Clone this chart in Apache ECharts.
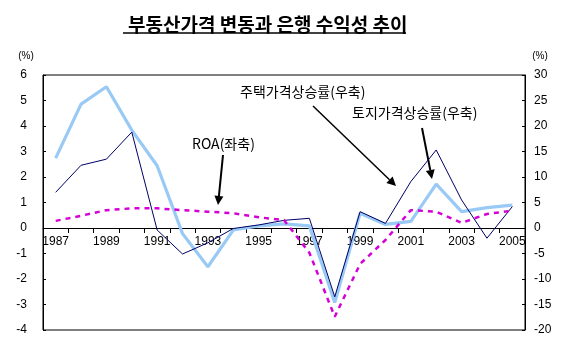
<!DOCTYPE html>
<html><head><meta charset="utf-8">
<script src="https://cdn.jsdelivr.net/npm/echarts@6/dist/echarts.min.js"></script>
<style>html,body{margin:0;padding:0;background:#fff}#c{width:563px;height:345px}</style>
</head><body><div id="c"></div>
<script>
const years = ['1987','1988','1989','1990','1991','1992','1993','1994','1995','1996','1997','1998','1999','2000','2001','2002','2003','2004','2005'];
const roa   = [0.28,0.48,0.70,0.77,0.77,0.70,0.64,0.58,0.42,0.31,-0.97,-3.48,-1.41,-0.47,0.70,0.64,0.20,0.55,0.68];
const house = [7.0,12.3,13.5,18.8,-0.4,-5.1,-2.9,-0.1,0.6,1.5,1.9,-13.5,3.2,0.9,9.1,15.3,5.5,-2.0,4.2];
const land  = [13.7,24.3,27.7,19.2,12.2,-1.1,-7.6,-0.4,0.4,0.8,0.4,-14.6,2.9,0.7,1.3,8.6,3.2,4.0,4.5];
const leftTicks = {min:-4, max:6, interval:1};
const rightTicks = {min:-20, max:30, interval:5};
const titleText = '부동산가격 변동과 은행 수익성 추이';
const labels = {roa:'ROA(좌축)', house:'주택가격상승률(우축)', land:'토지가격상승률(우축)'};

const FONT = "'Liberation Sans', 'Noto Sans CJK KR', sans-serif";
const KFONT = "'Noto Sans CJK KR', sans-serif";

const W = 563, H = 345;
const grid = {left:43, right:38, top:75, bottom:15};
const plotH = H - grid.top - grid.bottom;
// place the category axis on the zero of the left value axis
const zeroOffset = -plotH * (0 - leftTicks.min) / (leftTicks.max - leftTicks.min);

function arrow(x1,y1,x2,y2,w){
  const dx=x2-x1, dy=y2-y1, L=Math.sqrt(dx*dx+dy*dy), ux=dx/L, uy=dy/L;
  const hl=9, hw=4.5;
  const bx=x2-ux*hl, by=y2-uy*hl;
  return [
    {type:'line', shape:{x1:x1,y1:y1,x2:bx,y2:by}, style:{stroke:'#000', lineWidth:w}},
    {type:'polygon', shape:{points:[[x2,y2],[bx-uy*hw,by+ux*hw],[bx+uy*hw,by-ux*hw]]}, style:{fill:'#000'}}
  ];
}

const chart = echarts.init(document.getElementById('c'), null, {renderer:'canvas'});
chart.setOption({
  animation:false,
  backgroundColor:'#fff',
  title:{text:titleText, left:123, top:10, textStyle:{fontFamily:KFONT, fontSize:19, fontWeight:'bold', color:'#000'}},
  grid:{left:grid.left, right:grid.right, top:grid.top, bottom:grid.bottom, show:true, borderColor:'#000', borderWidth:1, containLabel:false},
  xAxis:{type:'category', data:years, boundaryGap:true, position:'bottom', offset:zeroOffset,
    axisLine:{onZero:false, lineStyle:{color:'#000', width:1}},
    axisTick:{show:true, interval:0, length:5, lineStyle:{color:'#000'}},
    axisLabel:{interval:1, margin:8, color:'#000', fontFamily:FONT, fontSize:12},
    splitLine:{show:false}},
  yAxis:[
    {type:'value', position:'left', min:leftTicks.min, max:leftTicks.max, interval:leftTicks.interval,
     name:'(%)', nameLocation:'end', nameGap:14,
     nameTextStyle:{fontFamily:FONT, fontSize:10, color:'#000', align:'center', padding:[0,34,0,0]},
     axisLine:{show:true, lineStyle:{color:'#000'}}, axisTick:{show:true, inside:true, length:3, lineStyle:{color:'#000'}},
     axisLabel:{margin:16, color:'#000', fontFamily:FONT, fontSize:12}, splitLine:{show:false}},
    {type:'value', position:'right', min:rightTicks.min, max:rightTicks.max, interval:rightTicks.interval,
     name:'(%)', nameLocation:'end', nameGap:14,
     nameTextStyle:{fontFamily:FONT, fontSize:10, color:'#000', align:'center', padding:[0,0,0,30]},
     axisLine:{show:true, lineStyle:{color:'#000'}}, axisTick:{show:true, inside:true, length:3, lineStyle:{color:'#000'}},
     axisLabel:{margin:9, color:'#000', fontFamily:FONT, fontSize:12}, splitLine:{show:false}}
  ],
  series:[
    {name:'토지가격상승률', type:'line', yAxisIndex:1, data:land, symbol:'none', z:2,
     lineStyle:{color:'#99c9f5', width:3.2}},
    {name:'주택가격상승률', type:'line', yAxisIndex:1, data:house, symbol:'none', z:3,
     lineStyle:{color:'#000066', width:1}},
    {name:'ROA', type:'line', yAxisIndex:0, data:roa, symbol:'none', z:4,
     lineStyle:{color:'#d400d4', width:2.5, type:[5,5]}}
  ],
  graphic:[
    {type:'line', shape:{x1:123,y1:33,x2:406,y2:33}, style:{stroke:'#000', lineWidth:1.5}},
    {type:'text', left:192, top:137, style:{text:labels.roa, fontFamily:KFONT, fontSize:14, fill:'#000'}},
    {type:'text', left:240, top:85, style:{text:labels.house, fontFamily:KFONT, fontSize:14, fill:'#000'}},
    {type:'text', left:352, top:106, style:{text:labels.land, fontFamily:KFONT, fontSize:14, fill:'#000'}},
    ...arrow(223,155,218,205,2),
    ...arrow(313,106,396,186,1.5),
    ...arrow(422,128,432,179,2)
  ]
});
</script></body></html>
